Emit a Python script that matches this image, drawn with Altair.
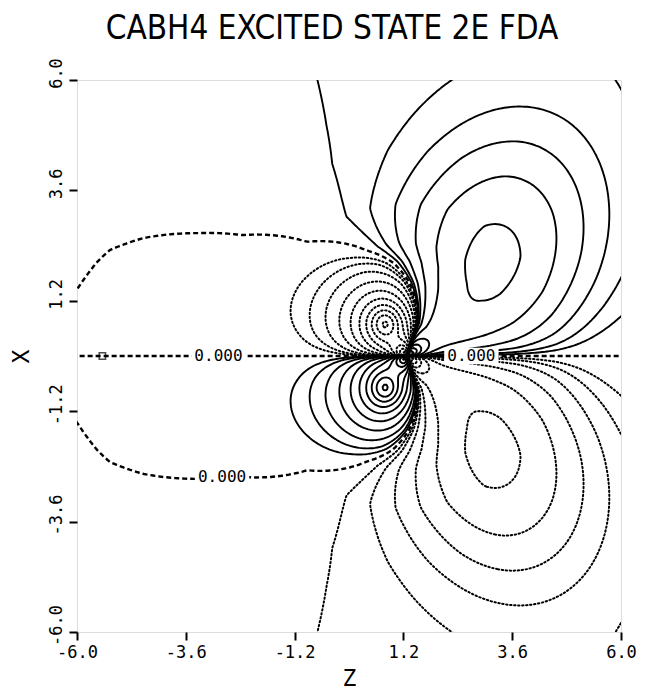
import numpy as np
import pandas as pd
import altair as alt

alt.data_transformers.disable_max_rows()

TITLE = "CABH4 EXCITED STATE 2E FDA"
tick_values = [-6.0, -3.6, -1.2, 1.2, 3.6, 6.0]

# atoms marked by small squares on the Z axis
atom_z = [-5.44, 1.30]
atom_x = [0.0, 0.0]

# nodal (0.000) line of the upper half, read as polar points about the atom at Z = 1.27
node_centre = [1.27, 0.0]
node_r = [0.0, 0.76, 1.60, 2.06, 2.46, 3.31, 4.48, 5.31, 6.35, 6.94, 7.13, 7.41, 7.80, 13.0]
node_deg = [70.0, 72.3, 87.9, 98.6, 111.0, 131.4, 144.1, 149.8, 156.2, 160.6, 163.4, 168.7, 175.0, 178.0]

# magnitude lobes with power-law fall-off (upper-half centres, mirrored to X < 0)
pw_z = [0.80, 1.27, 1.27]
pw_x = [0.70, 0.00, 0.00]
pw_amp = [8.0, 4.0, 2.0]
pw_core = [0.22, 0.15, 1.0]
pw_pow = [1.5, 1.5, 0.34]
pw_sz = [1.0, 1.0, 1.0]
pw_sx = [1.1, 1.0, 1.0]

# tilted lobe of the upper-right maximum (stretched exponential)
tl_z = [2.85]
tl_x = [1.55]
tl_amp = [42.0]
tl_angle = [65.0]
tl_major = [1.15]
tl_minor = [0.80]
tl_decay = [0.34]
tl_shape = [1.8]

# contour levels (positive solid, negative dotted, zero dashed)
level_steps = [1, 2, 4, 8, 16, 32, 64, 128, 256, 512, 1024, 2048, 4096]

# contour labels
label_text = ["0.000", "0.000", "0.000"]
label_z = [-2.88, 2.70, -2.80]
label_x = [0.0, 0.0, -2.62]

# ---------------------------------------------------------------- field
h = 0.05
M = 123
xs = (np.arange(-M, M) + 0.5) * h
zs = (np.arange(-M, M) + 0.5) * h
ZZ, XX = np.meshgrid(zs, xs)

R = np.zeros_like(ZZ)
for sg in (1.0, -1.0):
    XS = sg * XX
    for z0, x0, a, c, p, sz, sx in zip(pw_z, pw_x, pw_amp, pw_core, pw_pow, pw_sz, pw_sx):
        d2 = ((ZZ - z0) / sz) ** 2 + ((XS - x0) / sx) ** 2 + c ** 2
        R += a * d2 ** (-p)
    for z0, x0, a, ang, smj, smn, k, q in zip(tl_z, tl_x, tl_amp, tl_angle, tl_major, tl_minor,
                                               tl_decay, tl_shape):
        ca, sa = np.cos(np.radians(ang)), np.sin(np.radians(ang))
        du, dv = ZZ - z0, XS - x0
        u = du * ca + dv * sa
        v = -du * sa + dv * ca
        rho = np.sqrt((u / smj) ** 2 + (v / smn) ** 2)
        R += a * np.exp(-k * rho ** q)

zr = ZZ - node_centre[0]
rr = np.hypot(zr, XX)
th = np.arctan2(np.abs(XX), zr)
th0 = np.radians(np.interp(rr, node_r, node_deg))
Theta = (XX / np.maximum(rr, 1e-9)) * (th0 - th)
F = Theta * R


def trace(F, zs, xs, level):
    nx, nz = F.shape
    A = F > level
    c0 = A[:-1, :-1]
    c1 = A[:-1, 1:]
    c2 = A[1:, 1:]
    c3 = A[1:, :-1]
    case = c0.astype(int) + 2 * c1 + 4 * c2 + 8 * c3
    cells = np.argwhere((case > 0) & (case < 15))
    pts = {}

    def ekey(kind, i, j):
        return 2 * (i * nz + j) + kind

    def point(key):
        if key in pts:
            return pts[key]
        base, kind = divmod(key, 2)
        i, j = divmod(base, nz)
        if kind == 0:
            a, b = F[i, j], F[i, j + 1]
            t = (level - a) / (b - a)
            p = (zs[j] + t * (zs[j + 1] - zs[j]), xs[i])
        else:
            a, b = F[i, j], F[i + 1, j]
            t = (level - a) / (b - a)
            p = (zs[j], xs[i] + t * (xs[i + 1] - xs[i]))
        pts[key] = p
        return p

    adj = {}

    def link(a, b):
        adj.setdefault(a, []).append(b)
        adj.setdefault(b, []).append(a)

    table = {1: [(3, 0)], 2: [(0, 1)], 3: [(3, 1)], 4: [(1, 2)], 6: [(0, 2)], 7: [(3, 2)],
             8: [(2, 3)], 9: [(0, 2)], 11: [(1, 2)], 12: [(1, 3)], 13: [(0, 1)], 14: [(0, 3)]}
    for i, j in cells:
        cs = int(case[i, j])
        e = (ekey(0, i, j), ekey(1, i, j + 1), ekey(0, i + 1, j), ekey(1, i, j))
        if cs in (5, 10):
            centre = 0.25 * (F[i, j] + F[i, j + 1] + F[i + 1, j] + F[i + 1, j + 1]) > level
            if cs == 5:
                segs = [(0, 1), (2, 3)] if centre else [(3, 0), (1, 2)]
            else:
                segs = [(3, 0), (1, 2)] if centre else [(0, 1), (2, 3)]
        else:
            segs = table[cs]
        for a, b in segs:
            link(e[a], e[b])

    visited = set()

    def walk(start):
        path = [start]
        visited.add(start)
        cur = start
        while True:
            nxt = None
            for n in adj[cur]:
                if n not in visited:
                    nxt = n
                    break
            if nxt is None:
                if len(path) > 2 and start in adj[cur]:
                    path.append(start)
                break
            visited.add(nxt)
            path.append(nxt)
            cur = nxt
        return path

    paths = []
    for k, v in adj.items():
        if len(v) == 1 and k not in visited:
            paths.append(walk(k))
    for k in adj:
        if k not in visited:
            paths.append(walk(k))
    return [[point(k) for k in p] for p in paths]


def frame(levels):
    rows = []
    pid = 0
    for lv in levels:
        for path in trace(F, zs, xs, lv):
            if len(path) < 2:
                continue
            for o, (z, x) in enumerate(path):
                rows.append((pid, o, round(float(z), 3), round(float(x), 3)))
            pid += 1
    return pd.DataFrame(rows, columns=["id", "o", "z", "x"])


df_pos = frame([float(s) for s in level_steps])
df_neg = frame([-float(s) for s in level_steps])
df_zero = frame([0.0])

# ---------------------------------------------------------------- chart
MONO = "DejaVu Sans Mono"
NARROW = "Liberation Sans Narrow, DejaVu Sans Condensed, DejaVu Sans Mono"
label_expr = "(datum.value < 0 ? '-' : '') + format(abs(datum.value), '.1f')"
xscale = alt.Scale(domain=[-6, 6], nice=False, zero=False)
yscale = alt.Scale(domain=[-6, 6], nice=False, zero=False)
xaxis = alt.Axis(values=tick_values, labelExpr=label_expr, title="Z", grid=False, domain=False,
                 tickSize=8, tickWidth=2, tickColor="black", labelFont=MONO, labelFontSize=17,
                 labelColor="black", labelPadding=4, labelFlush=False, labelOverlap=False,
                 titleFont=MONO, titleFontSize=23, titleFontWeight="normal", titleColor="black",
                 titlePadding=7)
yaxis = alt.Axis(values=tick_values, labelExpr=label_expr, title="X", grid=False, domain=False,
                 tickSize=8, tickWidth=2, tickColor="black", labelFont=MONO, labelFontSize=17,
                 labelColor="black", labelPadding=4, labelFlush=False, labelOverlap=False,
                 labelAngle=270, labelAlign="center", labelBaseline="bottom", labelOffset=-7,
                 titleFont=MONO, titleFontSize=23, titleFontWeight="normal", titleColor="black",
                 titlePadding=14)


def enc():
    return dict(x=alt.X("z:Q", scale=xscale, axis=xaxis),
                y=alt.Y("x:Q", scale=yscale, axis=yaxis),
                detail="id:N", order="o:Q")


pos = alt.Chart(df_pos).mark_line(color="black", strokeWidth=1.9, clip=True).encode(**enc())
neg = alt.Chart(df_neg).mark_line(color="black", strokeWidth=2.0, strokeDash=[1.4, 2.6],
                                  strokeCap="round", clip=True).encode(**enc())
zero = alt.Chart(df_zero).mark_line(color="black", strokeWidth=2.4, strokeDash=[5, 3],
                                    clip=True).encode(**enc())

lab = pd.DataFrame({"t": label_text, "z": label_z, "x": label_x})
lab["z1"] = lab["z"] - 0.6
lab["z2"] = lab["z"] + 0.6
lab["x1"] = lab["x"] - 0.18
lab["x2"] = lab["x"] + 0.18
boxes = alt.Chart(lab).mark_rect(color="white").encode(
    x=alt.X("z1:Q", scale=xscale, axis=xaxis), x2="z2:Q",
    y=alt.Y("x1:Q", scale=yscale, axis=yaxis), y2="x2:Q")
texts = alt.Chart(lab).mark_text(font=MONO, fontSize=16, color="black").encode(
    x=alt.X("z:Q", scale=xscale, axis=xaxis), y=alt.Y("x:Q", scale=yscale, axis=yaxis), text="t:N")

atoms = alt.Chart(pd.DataFrame({"z": atom_z, "x": atom_x})).mark_point(
    shape="square", filled=False, size=40, color="black", strokeWidth=1.5).encode(
    x=alt.X("z:Q", scale=xscale, axis=xaxis), y=alt.Y("x:Q", scale=yscale, axis=yaxis))

chart = alt.layer(zero, neg, pos, boxes, texts, atoms).properties(
    width=544, height=552,
    autosize=alt.AutoSizeParams(type="none"),
    padding={"left": 69, "top": 72, "right": 16, "bottom": 58},
    title=alt.TitleParams(TITLE, font=NARROW, fontSize=33, fontWeight="normal", color="black",
                          anchor="middle", offset=12, dx=-17),
).configure_view(stroke="black", strokeWidth=3).configure(background="white")

chart.save("out.html", embed_options={"renderer": "svg", "actions": False})
